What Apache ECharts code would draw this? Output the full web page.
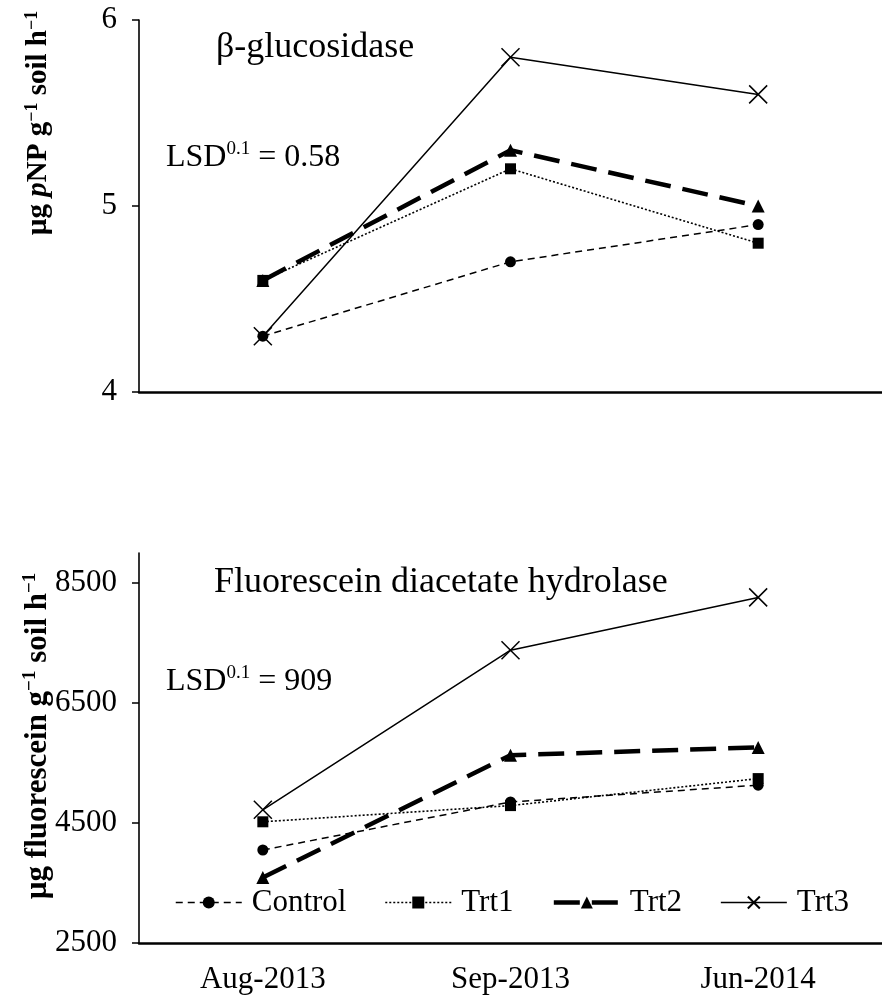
<!DOCTYPE html>
<html lang="en">
<head>
    <meta charset="UTF-8">
    <title>Enzyme activity</title>
    <script src="https://cdn.jsdelivr.net/npm/echarts@6/dist/echarts.min.js"></script>
    <style>
        html, body { margin: 0; padding: 0; background: #fff; }
    </style>
</head>
<body>
    <div id="main" style="width: 882px; height: 1003px"></div>
    <script type="text/javascript">
        var dates = ['Aug-2013', 'Sep-2013', 'Jun-2014'];
        var names = ['Control', 'Trt1', 'Trt2', 'Trt3'];

        // beta-glucosidase, µg pNP g-1 soil h-1
        var glucControl = [4.3, 4.7, 4.9];
        var glucTrt1 = [4.6, 5.2, 4.8];
        var glucTrt2 = [4.6, 5.3, 5.0];
        var glucTrt3 = [4.3, 5.8, 5.6];

        // fluorescein diacetate hydrolase, µg fluorescein g-1 soil h-1
        var fdaControl = [4050, 4850, 5130];
        var fdaTrt1 = [4520, 4790, 5240];
        var fdaTrt2 = [3590, 5630, 5760];
        var fdaTrt3 = [4720, 7380, 8260];

        var glucTicks = [4, 5, 6];
        var fdaTicks = [2500, 4500, 6500, 8500];

        var font = 'Liberation Serif';
        var xMark = 'path://M0,0L10,10M10,0L0,10';

        var styles = {
            Control: { symbol: 'circle', size: 11, line: { width: 1.5, type: [7, 5] } },
            Trt1: { symbol: 'rect', size: 11, line: { width: 1.6, type: [2, 2] } },
            Trt2: { symbol: 'triangle', size: 13, line: { width: 4.5, type: [26, 12] } },
            Trt3: { symbol: xMark, size: 18, line: { width: 1.5, type: 'solid' } }
        };

        function makeSeries(name, data, idx) {
            var s = styles[name];
            return {
                name: name,
                type: 'line',
                xAxisIndex: idx,
                yAxisIndex: idx,
                data: data,
                symbol: s.symbol,
                symbolSize: s.size,
                showSymbol: true,
                lineStyle: { color: '#000', width: s.line.width, type: s.line.type },
                itemStyle: { color: '#000', borderColor: '#000', borderWidth: name === 'Trt3' ? 1.5 : 0 },
                emphasis: { disabled: true },
                z: name === 'Trt3' ? 3 : 2
            };
        }

        function yAxisOf(idx, min, max, ticks) {
            return {
                type: 'value',
                gridIndex: idx,
                min: min,
                max: max,
                interval: idx === 0 ? 1 : undefined,
                splitLine: { show: false },
                axisLine: { show: true, lineStyle: { color: '#000', width: 1.6 } },
                axisTick: { show: true, inside: false, length: 7, customValues: ticks, lineStyle: { color: '#000', width: 1.5 } },
                axisLabel: {
                    customValues: ticks,
                    margin: 22,
                    fontFamily: font,
                    fontSize: 31,
                    color: '#000',
                    formatter: function (v) { return ticks.indexOf(v) >= 0 ? String(v) : ''; }
                }
            };
        }

        function xAxisOf(idx, showLabel) {
            return {
                type: 'category',
                gridIndex: idx,
                data: dates,
                boundaryGap: true,
                axisLine: { show: true, lineStyle: { color: '#000', width: 2.5 } },
                axisTick: { show: false },
                axisLabel: { show: showLabel, margin: 21, fontFamily: font, fontSize: 31, color: '#000' },
                splitLine: { show: false }
            };
        }

        var supStyle = { fontFamily: font, fontSize: 19, lineHeight: 19, verticalAlign: 'top', fill: '#000', color: '#000' };
        var mainStyle = { fontFamily: font, fontSize: 32, lineHeight: 36, fill: '#000', color: '#000' };

        function nameRich(size) {
            return {
                n: { fontFamily: font, fontSize: size, fontWeight: 'bold', lineHeight: size + 3, fill: '#000', color: '#000' },
                i: { fontFamily: font, fontSize: size, fontWeight: 'bold', fontStyle: 'italic', lineHeight: size + 3, fill: '#000', color: '#000' },
                s: { fontFamily: font, fontSize: Math.round(size * 0.62), fontWeight: 'bold', lineHeight: Math.round(size * 0.62), verticalAlign: 'top', fill: '#000', color: '#000' }
            };
        }

        function plainText(x, y, txt, size) {
            return {
                type: 'text', x: x, y: y,
                style: { text: txt, fontFamily: font, fontSize: size, fill: '#000', align: 'left', verticalAlign: 'middle', textAlign: 'left', textVerticalAlign: 'middle' }
            };
        }

        function lsdText(x, y, val) {
            return {
                type: 'text', x: x, y: y,
                style: {
                    text: '{n|LSD}{s|0.1}{n| = ' + val + '}',
                    rich: { n: mainStyle, s: supStyle },
                    align: 'left', verticalAlign: 'middle', textAlign: 'left', textVerticalAlign: 'middle'
                }
            };
        }

        function yName(x, y, txt, size) {
            return {
                type: 'text', x: x, y: y, rotation: Math.PI / 2,
                style: {
                    text: txt,
                    rich: nameRich(size),
                    align: 'center', verticalAlign: 'middle', textAlign: 'center', textVerticalAlign: 'middle'
                }
            };
        }

        var option = {
            animation: false,
            backgroundColor: '#fff',
            grid: [
                { left: 139, top: 20, width: 752, height: 372 },
                { left: 139, top: 553, width: 752, height: 390 }
            ],
            xAxis: [xAxisOf(0, false), xAxisOf(1, true)],
            yAxis: [yAxisOf(0, 4, 6, glucTicks), yAxisOf(1, 2500, 9000, fdaTicks)],
            legend: {
                data: names,
                left: 175,
                top: 887,
                padding: 0,
                itemWidth: 66,
                itemHeight: 15,
                itemGap: 38,
                selectedMode: false,
                lineStyle: { width: 'inherit', type: 'inherit', color: 'inherit' },
                textStyle: { fontFamily: font, fontSize: 31, color: '#000', padding: [0, 0, 0, 5] }
            },
            graphic: [
                plainText(216, 48, 'β-glucosidase', 36),
                lsdText(166, 158, '0.58'),
                plainText(214, 583, 'Fluorescein diacetate hydrolase', 36),
                lsdText(166, 682, '909'),
                yName(39, 123, '{n|µg }{i|p}{n|NP g}{s|−1}{n| soil h}{s|−1}', 29),
                yName(38, 736, '{n|µg fluorescein g}{s|−1}{n| soil h}{s|−1}', 31)
            ],
            series: [
                makeSeries('Control', glucControl, 0),
                makeSeries('Trt1', glucTrt1, 0),
                makeSeries('Trt2', glucTrt2, 0),
                makeSeries('Trt3', glucTrt3, 0),
                makeSeries('Control', fdaControl, 1),
                makeSeries('Trt1', fdaTrt1, 1),
                makeSeries('Trt2', fdaTrt2, 1),
                makeSeries('Trt3', fdaTrt3, 1)
            ]
        };

        var myChart = echarts.init(document.getElementById('main'));
        myChart.setOption(option);
    </script>
</body>
</html>
